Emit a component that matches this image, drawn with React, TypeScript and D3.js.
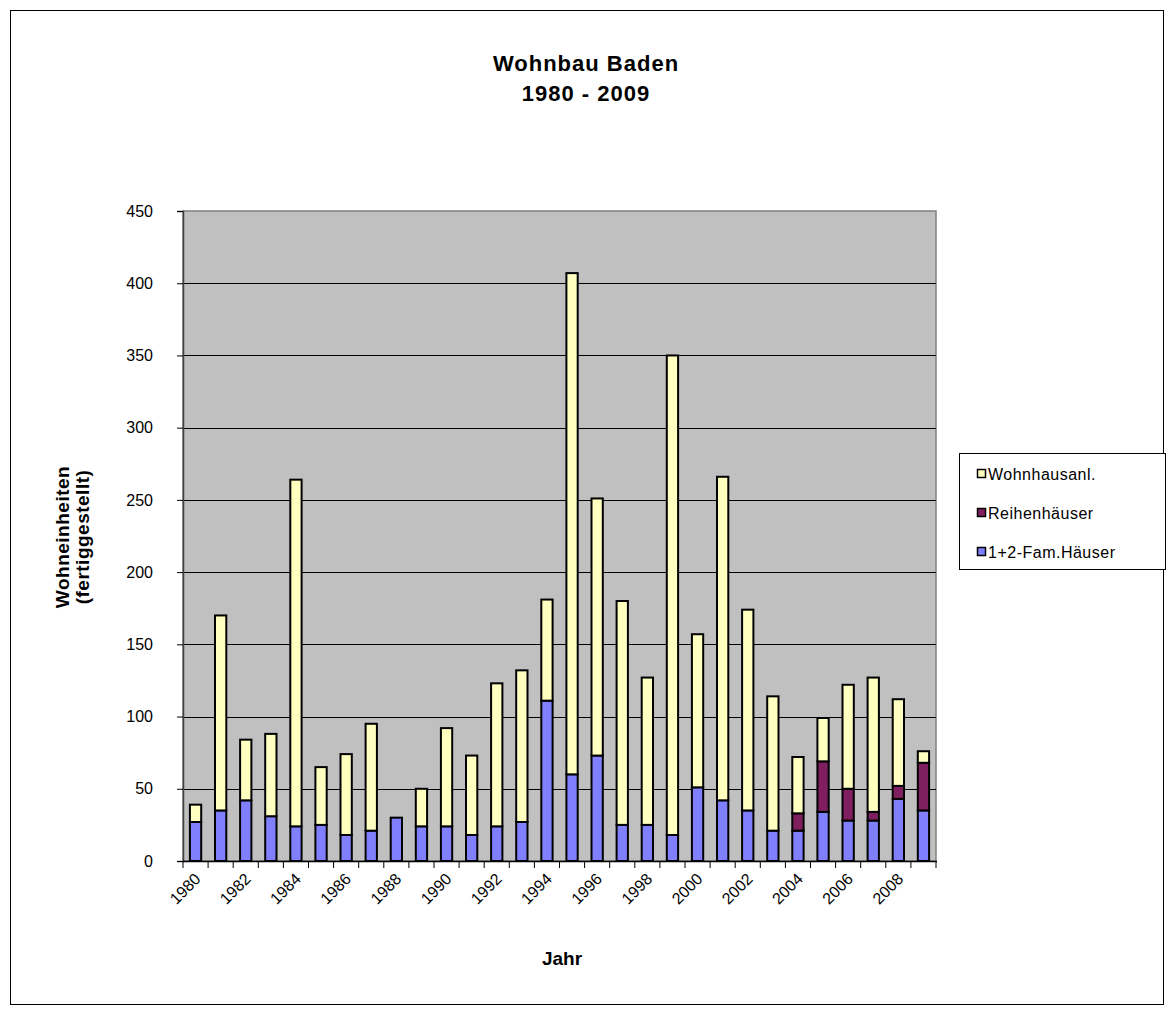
import * as d3 from "d3";
import { useEffect, useRef } from "react";

// categories
const years = [
  "1980", "1981", "1982", "1983", "1984", "1985", "1986", "1987", "1988", "1989",
  "1990", "1991", "1992", "1993", "1994", "1995", "1996", "1997", "1998", "1999",
  "2000", "2001", "2002", "2003", "2004", "2005", "2006", "2007", "2008", "2009",
];

// series values
const famHaeuser = [
  27, 35, 42, 31, 24, 25, 18, 21, 30, 24,
  24, 18, 24, 27, 111, 60, 73, 25, 25, 18,
  51, 42, 35, 21, 21, 34, 28, 28, 43, 35,
];
const reihenHaeuser = [
  0, 0, 0, 0, 0, 0, 0, 0, 0, 0,
  0, 0, 0, 0, 0, 0, 0, 0, 0, 0,
  0, 0, 0, 0, 12, 35, 22, 6, 9, 33,
];
const wohnhausAnl = [
  12, 135, 42, 57, 240, 40, 56, 74, 0, 26,
  68, 55, 99, 105, 70, 347, 178, 155, 102, 332,
  106, 224, 139, 93, 39, 30, 72, 93, 60, 8,
];

const yTicks = [0, 50, 100, 150, 200, 250, 300, 350, 400, 450];

const seriesNames = ["1+2-Fam.Häuser", "Reihenhäuser", "Wohnhausanl."];
const seriesColors = ["#8080FF", "#801F60", "#FFFFC0"];

function App() {
  const ref = useRef<SVGSVGElement | null>(null);

  useEffect(() => {
    const svg = d3.select(ref.current);
    svg.selectAll("*").remove();

    const font = "'Liberation Sans', Arial, sans-serif";
    const left = 183, right = 936, top = 211, bottom = 861;

    // outer frame
    svg.append("rect")
      .attr("x", 10.5).attr("y", 10.5)
      .attr("width", 1153).attr("height", 994)
      .attr("fill", "white").attr("stroke", "black").attr("stroke-width", 1);

    const x = d3.scaleBand().domain(years).range([left, right]).paddingInner(0.55).paddingOuter(0.275);
    const xb = d3.scaleBand().domain(years).range([left, right]);
    const y = d3.scaleLinear().domain([0, 450]).range([bottom, top]);

    // plot area
    svg.append("rect")
      .attr("x", left).attr("y", top)
      .attr("width", right - left).attr("height", bottom - top)
      .attr("fill", "#C0C0C0").attr("stroke", "#808080").attr("stroke-width", 1.5);

    // gridlines
    svg.append("g")
      .selectAll("line")
      .data(yTicks.filter(t => t > 0 && t < 450))
      .enter()
      .append("line")
      .attr("x1", left).attr("x2", right)
      .attr("y1", d => Math.round(y(d)) + 0.5).attr("y2", d => Math.round(y(d)) + 0.5)
      .attr("stroke", "black").attr("stroke-width", 1);

    // stack
    const table = years.map((yr, i) => ({
      year: yr,
      fam: famHaeuser[i],
      reihen: reihenHaeuser[i],
      anl: wohnhausAnl[i],
    }));
    const stack = d3.stack<any>().keys(["fam", "reihen", "anl"])(table);

    stack.forEach((layer, li) => {
      svg.append("g")
        .selectAll("rect")
        .data(layer.filter(d => d[1] - d[0] > 0))
        .enter()
        .append("rect")
        .attr("x", (d: any) => x(d.data.year)!)
        .attr("y", (d: any) => y(d[1]))
        .attr("width", x.bandwidth())
        .attr("height", (d: any) => y(d[0]) - y(d[1]))
        .attr("fill", seriesColors[li])
        .attr("stroke", "black")
        .attr("stroke-width", 2);
    });

    // y axis
    const yAxis = svg.append("g")
      .attr("transform", `translate(${left},0)`)
      .call(d3.axisLeft(y).tickValues(yTicks).tickSize(6).tickPadding(24));
    yAxis.select(".domain").attr("stroke", "#404040").attr("stroke-width", 1.5);
    yAxis.selectAll(".tick line").attr("stroke", "black");
    yAxis.selectAll("text")
      .attr("font-family", font).attr("font-size", 16).attr("fill", "black");

    // x axis
    const xAxisG = svg.append("g").attr("transform", `translate(0,${bottom})`);
    xAxisG.append("line")
      .attr("x1", left).attr("x2", right + 1)
      .attr("y1", 0.5).attr("y2", 0.5)
      .attr("stroke", "black").attr("stroke-width", 1.5);
    xAxisG.selectAll("line.tk")
      .data(years.concat(["end"]))
      .enter()
      .append("line")
      .attr("class", "tk")
      .attr("x1", (d, i) => i < years.length ? xb(d)! : right)
      .attr("x2", (d, i) => i < years.length ? xb(d)! : right)
      .attr("y1", 0).attr("y2", 7)
      .attr("stroke", "black");
    xAxisG.selectAll("text")
      .data(years.filter((_, i) => i % 2 === 0))
      .enter()
      .append("text")
      .attr("transform", d => `translate(${xb(d)! + xb.bandwidth() / 2 + 6},${19}) rotate(-45)`)
      .attr("text-anchor", "end")
      .attr("font-family", font).attr("font-size", 16)
      .text(d => d);

    // titles
    svg.append("text")
      .attr("x", 586).attr("y", 71)
      .attr("text-anchor", "middle")
      .attr("font-family", font).attr("font-size", 22).attr("font-weight", "bold")
      .attr("letter-spacing", 1)
      .text("Wohnbau Baden");
    svg.append("text")
      .attr("x", 586).attr("y", 101)
      .attr("text-anchor", "middle")
      .attr("font-family", font).attr("font-size", 22).attr("font-weight", "bold")
      .attr("letter-spacing", 1)
      .text("1980 - 2009");

    svg.append("text")
      .attr("x", 562).attr("y", 965)
      .attr("text-anchor", "middle")
      .attr("font-family", font).attr("font-size", 19).attr("font-weight", "bold")
      .text("Jahr");

    const yt = svg.append("text")
      .attr("transform", "translate(69,537) rotate(-90)")
      .attr("text-anchor", "middle")
      .attr("font-family", font).attr("font-size", 19).attr("font-weight", "bold")
      .attr("letter-spacing", 0.5);
    yt.append("tspan").attr("x", 0).attr("dy", 0).text("Wohneinheiten");
    yt.append("tspan").attr("x", 0).attr("dy", 20).text("(fertiggestellt)");

    // legend
    svg.append("rect")
      .attr("x", 959.5).attr("y", 453.5)
      .attr("width", 206).attr("height", 116)
      .attr("fill", "white").attr("stroke", "black");
    const legendOrder = [2, 1, 0];
    legendOrder.forEach((si, k) => {
      const ly = 474 + k * 39;
      svg.append("rect")
        .attr("x", 977.5).attr("y", ly - 4.5)
        .attr("width", 8).attr("height", 8)
        .attr("fill", seriesColors[si]).attr("stroke", "black").attr("stroke-width", 1.5);
      svg.append("text")
        .attr("x", 988).attr("y", ly + 6)
        .attr("font-family", font).attr("font-size", 16)
        .attr("letter-spacing", 0.5)
        .text(seriesNames[si]);
    });
  }, []);

  return (
    <svg
      ref={ref}
      width={1173}
      height={1015}
      style={{ position: "absolute", left: 0, top: 0 }}
    ></svg>
  );
}

export default App;
